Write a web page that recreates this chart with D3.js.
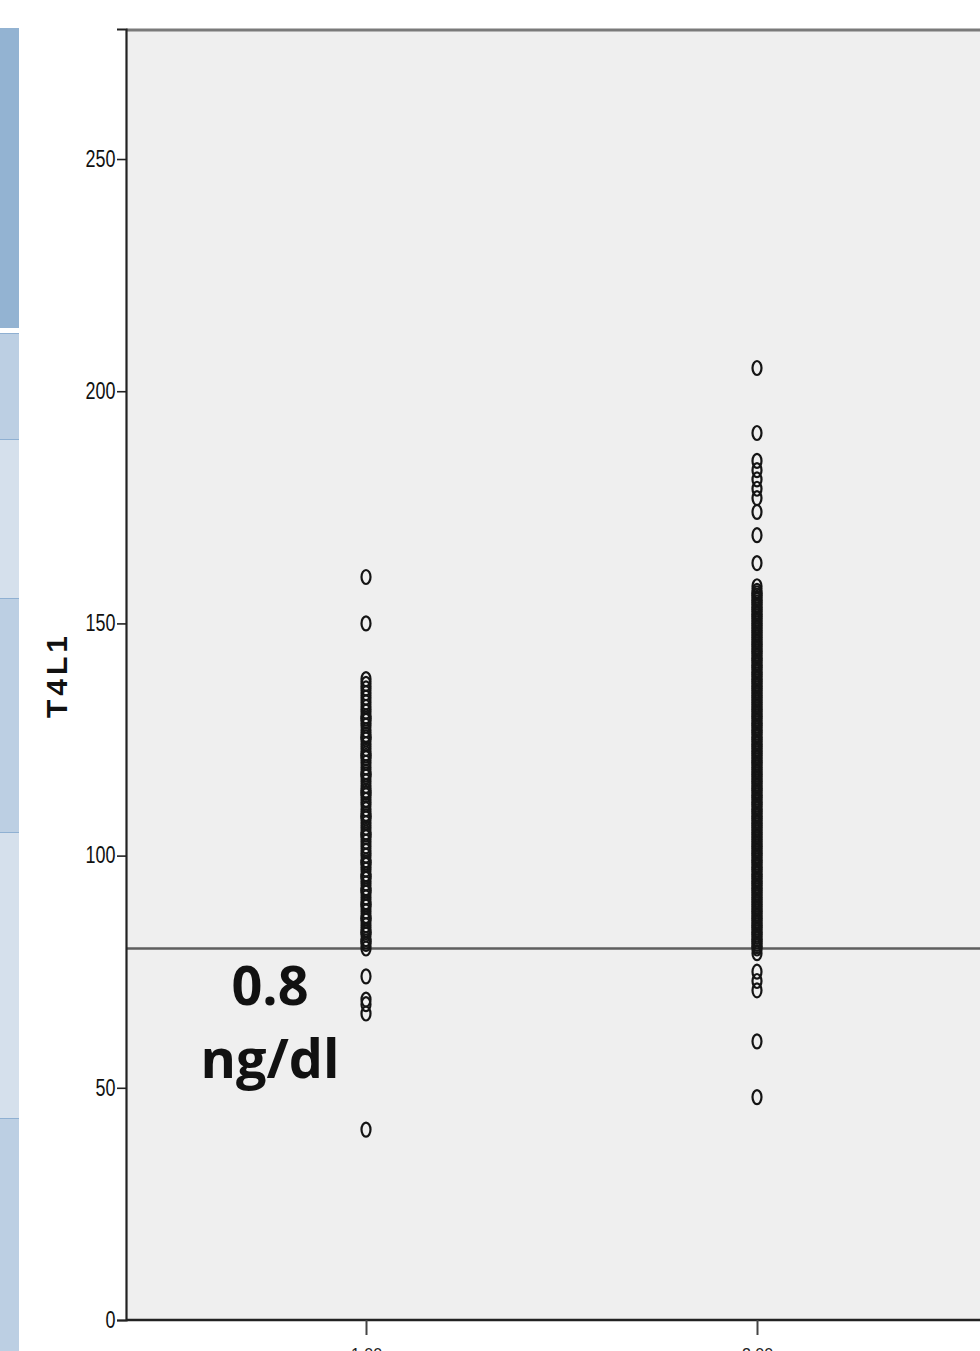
<!DOCTYPE html>
<html lang="en">
<head>
<meta charset="utf-8">
<title>T4L1</title>
<style>
  html, body { margin: 0; padding: 0; background: #fff; overflow: hidden; }
  svg { display: block; }
  .tick text { font-family: "Liberation Sans", Arial, sans-serif; }
</style>
</head>
<body>
<div id="chart"></div>
<script src="https://d3js.org/d3.v7.min.js"></script>
<script>
// groups on the x axis (labels are cut off at the bottom of the picture)
const groups = ["1.00", "2.00"];

// T4L1 values per group (x100, so 80 = 0.8 ng/dl)
const group1 = [160, 150, 138, 137, 136, 135, 134, 133, 132, 131, 130, 129, 128, 127, 126,
  125, 124, 123, 122, 121, 120, 119, 118, 117, 116, 115, 114, 113, 112, 111, 110, 109, 108,
  107, 106, 105, 104, 103, 102, 101, 100, 99, 98, 97, 96, 95, 94, 93, 92, 91, 90, 89, 88,
  87, 86, 85, 84, 83, 82, 81, 80, 74, 69, 68, 66, 41,
  // repeated readings inside the dark part of the column
  129.5, 125.5, 121.5, 117.5, 113.5, 108.5, 104.5, 98.5, 95.5, 92.5, 89.5, 86.5, 83.5, 81.5];
const group2 = [205, 191, 185, 183, 181, 179, 177, 174, 169, 163, 158, 157, 156, 155, 154,
  153, 152, 151, 150, 149, 148, 147, 146, 145, 144, 143, 142, 141, 140, 139, 138, 137, 136,
  135, 134, 133, 132, 131, 130, 129, 128, 127, 126, 125, 124, 123, 122, 121, 120, 119, 118,
  117, 116, 115, 114, 113, 112, 111, 110, 109, 108, 107, 106, 105, 104, 103, 102, 101, 100,
  99, 98, 97, 96, 95, 94, 93, 92, 91, 90, 89, 88, 87, 86, 85, 84, 83, 82, 81, 80, 79, 75,
  73, 71, 60, 48,
  // repeated readings inside the solid part of the column
  156.5, 155.5, 154.5, 153.5, 152.5, 151.5, 150.5, 149.5, 148.5, 147.5, 146.5, 145.5, 144.5,
  143.5, 142.5, 141.5, 140.5, 139.5, 138.5, 137.5, 136.5, 135.5, 134.5, 133.5, 132.5, 131.5,
  130.5, 129.5, 128.5, 127.5, 126.5, 125.5, 124.5, 123.5, 122.5, 121.5, 120.5, 119.5, 118.5,
  117.5, 116.5, 115.5, 114.5, 113.5, 112.5, 111.5, 110.5, 109.5, 108.5, 107.5, 106.5, 105.5,
  104.5, 103.5, 102.5, 101.5, 100.5, 99.5, 98.5, 97.5, 96.5, 95.5, 94.5, 93.5, 92.5, 91.5,
  90.5, 89.5, 88.5, 87.5, 86.5, 85.5, 84.5, 83.5, 82.5, 81.5, 80.5];

const yTicks = [0, 50, 100, 150, 200, 250];
const cutoff = 80;
const cutoffLabel = ["0.8", "ng/dl"];

// side strip bands (from a table next to the chart)
const stripBands = [
  { y0: 28, y1: 328, c: "#93b3d2" },
  { y0: 333, y1: 439, c: "#bccfe3" },
  { y0: 439, y1: 598, c: "#d5e0ec" },
  { y0: 598, y1: 832, c: "#bccfe3" },
  { y0: 832, y1: 1118, c: "#d5e0ec" },
  { y0: 1118, y1: 1351, c: "#bccfe3" }
];

const width = 980, height = 1351;
const plotLeft = 126, plotTop = 29, plotBottom = 1320;

const svg = d3.select("#chart").append("svg")
    .attr("width", width)
    .attr("height", height);

// blue strip at the left edge
svg.append("g")
  .selectAll("rect")
  .data(stripBands)
  .join("rect")
    .attr("x", 0)
    .attr("y", d => d.y0)
    .attr("width", 19)
    .attr("height", d => d.y1 - d.y0)
    .attr("fill", d => d.c);
svg.append("g")
  .selectAll("line")
  .data(stripBands.slice(1))
  .join("line")
    .attr("x1", 0).attr("x2", 19)
    .attr("y1", d => d.y0 + 0.5).attr("y2", d => d.y0 + 0.5)
    .attr("stroke", "#8fb0d2");

const y = d3.scaleLinear().domain([0, 278]).range([plotBottom, plotTop]);
const x = d3.scalePoint().domain(groups).range([366, 757]);

// plot background
svg.append("rect")
    .attr("x", plotLeft).attr("y", plotTop)
    .attr("width", width - plotLeft + 10).attr("height", plotBottom - plotTop)
    .attr("fill", "#efefef");

// top frame line
svg.append("line")
    .attr("x1", plotLeft).attr("x2", width)
    .attr("y1", plotTop + 1).attr("y2", plotTop + 1)
    .attr("stroke", "#7a7a7a")
    .attr("stroke-width", 3);

// cutoff line
svg.append("line")
    .attr("x1", plotLeft).attr("x2", width)
    .attr("y1", y(cutoff)).attr("y2", y(cutoff))
    .attr("stroke", "#5e5e5e")
    .attr("stroke-width", 2.5);

// points
const pts = [];
group1.forEach(v => pts.push({ g: groups[0], v }));
group2.forEach(v => pts.push({ g: groups[1], v }));
svg.append("g")
  .selectAll("ellipse")
  .data(pts)
  .join("ellipse")
    .attr("cx", d => x(d.g))
    .attr("cy", d => y(d.v))
    .attr("rx", 4.5)
    .attr("ry", 7)
    .attr("fill", "none")
    .attr("stroke", "#141414")
    .attr("stroke-width", 2.2);

// y axis
const yAxis = svg.append("g")
    .attr("transform", `translate(${plotLeft},0)`)
    .call(d3.axisLeft(y).tickValues(yTicks).tickSize(9).tickPadding(2).tickFormat(d3.format("d")));
yAxis.select(".domain").attr("stroke", "#222").attr("stroke-width", 2.2);
yAxis.selectAll(".tick line").attr("stroke", "#222").attr("stroke-width", 1.6);
yAxis.selectAll(".tick text")
    .attr("font-size", 23)
    .attr("fill", "#111")
    .attr("x", -13.5)
    .attr("transform", "scale(0.78,1)");

// x axis
const xAxis = svg.append("g")
    .attr("transform", `translate(0,${plotBottom})`)
    .call(d3.axisBottom(x).tickSize(15).tickPadding(14));
xAxis.select(".domain").attr("d", `M${plotLeft},0H${width + 5}`).attr("stroke", "#222").attr("stroke-width", 2.5);
xAxis.selectAll(".tick line").attr("stroke", "#444").attr("stroke-width", 2);
xAxis.selectAll(".tick text").attr("font-size", 16).attr("fill", "#222");

// axis title
svg.append("text")
    .attr("transform", `translate(67,675) rotate(-90)`)
    .attr("text-anchor", "middle")
    .attr("font-family", "Liberation Sans, Arial, sans-serif")
    .attr("font-weight", "bold")
    .attr("font-size", 30)
    .attr("letter-spacing", 4)
    .attr("fill", "#111")
    .text("T4L1");

// cutoff annotation
svg.append("g")
    .attr("font-family", "Open Sans, Noto Sans, sans-serif")
    .attr("font-weight", "bold")
    .attr("font-size", 54)
    .attr("fill", "#111")
    .attr("text-anchor", "middle")
  .selectAll("text")
  .data(cutoffLabel)
  .join("text")
    .attr("x", 270)
    .attr("y", (d, i) => 1005 + i * 73)
    .text(d => d);
</script>
</body>
</html>
